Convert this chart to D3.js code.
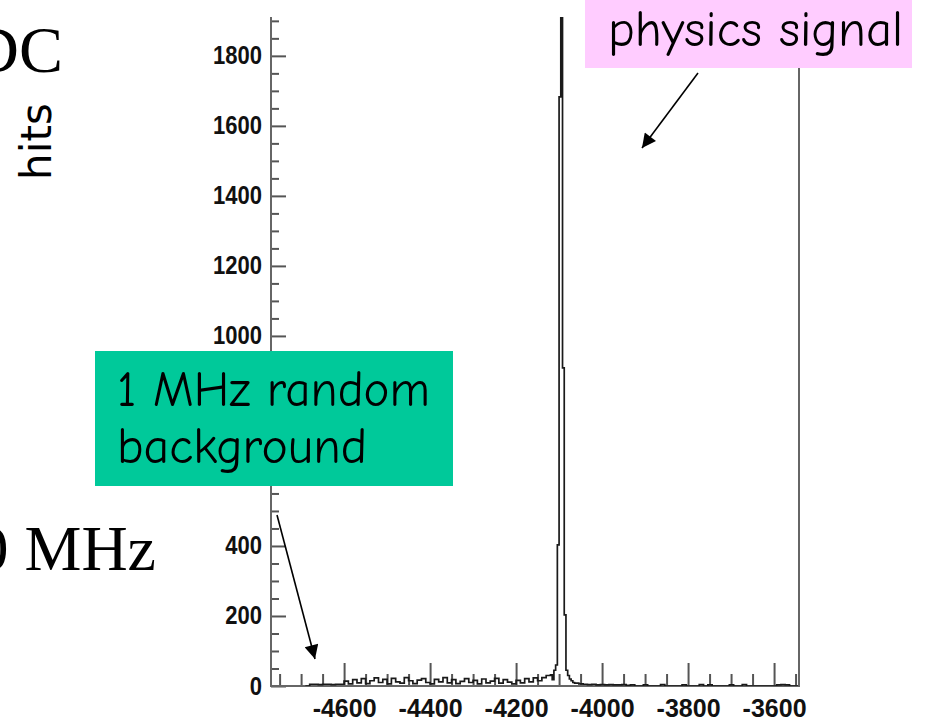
<!DOCTYPE html>
<html>
<head>
<meta charset="utf-8">
<script src="https://cdn.jsdelivr.net/npm/d3@7"></script>
<style>
  body { margin: 0; background: #fff; }
  .tick text { font-family: "Liberation Sans", Arial, sans-serif; font-weight: bold; }
</style>
</head>
<body>
<div id="chart"></div>
<script>
// histogram, in three segments of equal-width bins
// flat part and random background (10 unit bins)
var bgStart = -4690;
var bgWidth = 10;
var bgCounts = [0, 5, 5, 4, 5, 5, 4, 5, 5,
  14, 6, 18, 9, 21, 7, 15, 23, 10, 19, 6, 22, 12, 8, 24, 15, 7, 17, 21, 10,
  6, 19, 12, 24, 9, 18, 7, 13, 21, 10, 16, 6, 20, 9, 14, 22, 8, 18, 11, 6,
  16, 9, 21, 12, 23, 15, 24, 30];

// physics peak (4 unit bins)
var peakStart = -4120;
var peakWidth = 4;
var peakCounts = [32, 18, 45, 60, 403, 1683, 2600, 909, 203, 45, 30, 20, 15, 10];

// tail after the peak (10 unit bins)
var tailStart = -4064;
var tailWidth = 10;
var tailCounts = [8, 6, 5, 4, 5, 3, 4, 3, 4, 3, 3, 4, 2, 3, 0, 0, 3, 0, 0, 0,
  4, 0, 0, 0, 0, 3, 0, 0, 0, 4, 0, 3, 0, 0, 0, 0, 3, 0, 0, 4, 0, 0, 0, 0,
  0, 0, 0, 3, 4, 3, 0, 0];

var xDomain = [-4770, -3542];
var yDomain = [0, 1911];
var xMajor = [-4600, -4400, -4200, -4000, -3800, -3600];
var yMajor = [0, 200, 400, 600, 800, 1000, 1200, 1400, 1600, 1800];
// labels 600 and 800 sit under the green box on the slide
var yHidden = [600, 800];
var xMinorStep = 50;
var yMinorStep = 50;

// page size and plot area
var svgWidth = 928;
var svgHeight = 723;
var plot = { left: 271, right: 799, top: 17, bottom: 686 };

var svg = d3.select("#chart")
  .append("svg")
  .attr("width", svgWidth)
  .attr("height", svgHeight);

var x = d3.scaleLinear().domain(xDomain).range([plot.left, plot.right]);
var y = d3.scaleLinear().domain(yDomain).range([plot.bottom, plot.top]);

// turn the segments into one list of [edge, count] steps
var steps = [];
function addSegment(start, width, counts) {
  counts.forEach(function(c, i) {
    steps.push([start + i * width, c]);
  });
}
addSegment(bgStart, bgWidth, bgCounts);
addSegment(peakStart, peakWidth, peakCounts);
addSegment(tailStart, tailWidth, tailCounts);
steps.push([tailStart + tailCounts.length * tailWidth, 0]);

svg.append("clipPath")
  .attr("id", "plotclip")
  .append("rect")
  .attr("x", plot.left)
  .attr("y", plot.top)
  .attr("width", plot.right - plot.left)
  .attr("height", plot.bottom - plot.top);

var minorX = d3.range(xDomain[0] + 20, xDomain[1], 1).filter(function(v) {
  return v % xMinorStep === 0 && xMajor.indexOf(v) < 0;
});
var minorY = d3.range(0, yDomain[1], yMinorStep).filter(function(v) {
  return yMajor.indexOf(v) < 0;
});

// plain hyphen minus like the original plot
var fmt = function(d) { return String(d); };

// minor ticks
svg.append("g")
  .attr("class", "axis")
  .attr("transform", "translate(0," + plot.bottom + ")")
  .call(d3.axisBottom(x).tickValues(minorX).tickSize(-12).tickFormat(""));
svg.append("g")
  .attr("class", "axis")
  .attr("transform", "translate(" + plot.left + ",0)")
  .call(d3.axisLeft(y).tickValues(minorY).tickSize(-8).tickFormat(""));

// major ticks and labels
var xAxisG = svg.append("g")
  .attr("class", "axis")
  .attr("transform", "translate(0," + plot.bottom + ")")
  .call(d3.axisBottom(x).tickValues(xMajor).tickSize(-23).tickPadding(13).tickFormat(fmt));
var yAxisG = svg.append("g")
  .attr("class", "axis")
  .attr("transform", "translate(" + plot.left + ",0)")
  .call(d3.axisLeft(y).tickValues(yMajor).tickSize(-15).tickPadding(9)
    .tickFormat(function(d) { return yHidden.indexOf(d) < 0 ? fmt(d) : ""; }));

svg.selectAll(".axis .domain").remove();
svg.selectAll(".axis line").attr("stroke", "#555").attr("stroke-width", 2);
svg.selectAll(".axis text")
  .attr("fill", "#111")
  .style("font-size", "25px");
// digits in the plot font are narrower: squeeze the y labels a little
yAxisG.selectAll("text").each(function() {
  var len = this.getComputedTextLength();
  if (len > 0) {
    d3.select(this)
      .attr("textLength", len * 0.88)
      .attr("lengthAdjust", "spacingAndGlyphs");
  }
});

// frame: left, bottom, right
svg.append("path")
  .attr("d", "M" + plot.left + "," + plot.top + "V" + plot.bottom + "H" + plot.right + "V" + plot.top)
  .attr("fill", "none")
  .attr("stroke", "#666")
  .attr("stroke-width", 2);

// histogram
var drawLine = d3.line()
  .x(function(d) { return x(d[0]); })
  .y(function(d) { return y(d[1]); })
  .curve(d3.curveStepAfter);

svg.append("path")
  .attr("d", drawLine(steps))
  .attr("clip-path", "url(#plotclip)")
  .attr("fill", "none")
  .attr("stroke", "#1a1a1a")
  .attr("stroke-width", 1.7);

// slide text around the plot
svg.append("text")
  .attr("x", 63).attr("y", 72)
  .attr("text-anchor", "end")
  .style("font-family", "'Liberation Serif', 'Times New Roman', serif")
  .style("font-size", "66px")
  .text("DC");

svg.append("text")
  .attr("x", 156).attr("y", 570)
  .attr("text-anchor", "end")
  .style("font-family", "'Liberation Serif', 'Times New Roman', serif")
  .style("font-size", "64px")
  .text("0 MHz");

svg.append("text")
  .attr("transform", "translate(51,180) rotate(-90)")
  .style("font-family", "'DejaVu Sans', Verdana, sans-serif")
  .style("font-size", "42px")
  .attr("textLength", 77)
  .text("hits");

// arrows
svg.append("defs").append("marker")
  .attr("id", "head")
  .attr("viewBox", "0 0 10 10")
  .attr("refX", 10).attr("refY", 5)
  .attr("markerUnits", "userSpaceOnUse")
  .attr("markerWidth", 18).attr("markerHeight", 14)
  .attr("orient", "auto")
  .append("path")
  .attr("d", "M0,0L10,5L0,10Z")
  .attr("fill", "#000");

svg.append("line")
  .attr("x1", 698).attr("y1", 73).attr("x2", 642).attr("y2", 148)
  .attr("stroke", "#000").attr("stroke-width", 1.6)
  .attr("marker-end", "url(#head)");
svg.append("line")
  .attr("x1", 277).attr("y1", 515).attr("x2", 315).attr("y2", 659)
  .attr("stroke", "#000").attr("stroke-width", 1.6)
  .attr("marker-end", "url(#head)");

// callout boxes
var comic = "'Comic Sans MS', 'Comic Neue', Lato, sans-serif";

svg.append("rect")
  .attr("x", 95).attr("y", 351).attr("width", 358).attr("height", 135)
  .attr("fill", "#00c99a");
svg.append("text")
  .attr("x", 117).attr("y", 406)
  .style("font-family", comic).style("font-size", "50px")
  .attr("textLength", 313).attr("lengthAdjust", "spacingAndGlyphs")
  .text("1 MHz random");
svg.append("text")
  .attr("x", 117).attr("y", 463)
  .style("font-family", comic).style("font-size", "50px")
  .attr("textLength", 250).attr("lengthAdjust", "spacingAndGlyphs")
  .text("background");

svg.append("rect")
  .attr("x", 585).attr("y", 0).attr("width", 327).attr("height", 68)
  .attr("fill", "#ffccff");
svg.append("text")
  .attr("x", 608).attr("y", 46)
  .style("font-family", comic).style("font-size", "50px")
  .attr("textLength", 295).attr("lengthAdjust", "spacingAndGlyphs")
  .text("physics signal");
</script>
</body>
</html>
